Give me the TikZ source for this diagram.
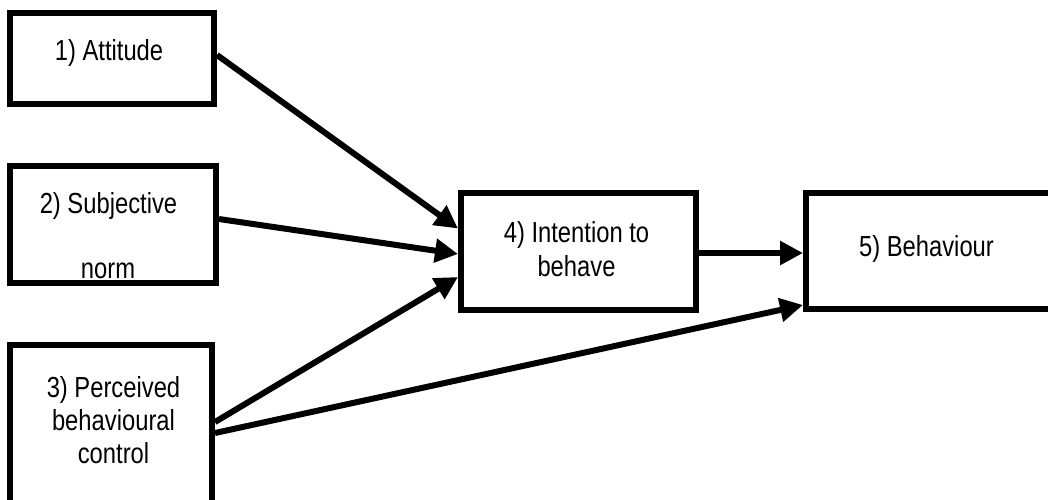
\documentclass[tikz,border=0pt]{standalone}
\usepackage{fontspec}
\setmainfont[FakeStretch=0.82]{Liberation Sans}
\usetikzlibrary{arrows.meta}
\tikzset{
  box/.style={draw=black, line width=6pt, fill=white, inner sep=0pt},
  lbl/.style={anchor=base, inner sep=0pt, font=\fontsize{29}{33}\selectfont},
  conn/.style={line width=6pt, -{Triangle[length=23pt,width=23pt]}}
}
\begin{document}
\begin{tikzpicture}[x=1pt,y=-1pt]
\clip (0,0) rectangle (1048,499);
\fill[white] (0,0) rectangle (1048,499);
% boxes
\node[box, minimum width=204pt, minimum height=91pt] (b1) at (112,58.5) {};
\node[box, minimum width=206pt, minimum height=117pt] (b2) at (113,224.5) {};
\node[box, minimum width=202pt, minimum height=165pt] (b3) at (111,427.5) {};
\node[box, minimum width=235pt, minimum height=117pt] (b4) at (578.5,251.5) {};
\node[box, minimum width=246pt, minimum height=116pt] (b5) at (929,251) {};
% texts
\node[lbl] (t1) at (109,60) {1) Attitude};
\node[lbl] (t2a) at (108.5,213) {2) Subjective};
\node[lbl] (t2b) at (108,278) {norm};
\node[lbl] (t3a) at (113.5,397) {3) Perceived};
\node[lbl] (t3b) at (113.5,430) {behavioural};
\node[lbl] (t3c) at (113.5,463) {control};
\node[lbl] (t4a) at (576.5,242) {4) Intention to};
\node[lbl] (t4b) at (576.5,276) {behave};
\node[lbl] (t5) at (926.5,256) {5) Behaviour};
% connectors
\draw[conn] ([yshift=3.5pt]b1.east) -- ([yshift=23pt]b4.west);
\draw[conn] ([yshift=5.5pt]b2.east) -- ([yshift=-2.5pt]b4.west);
\draw[conn] ([yshift=5.5pt]b3.east) -- ([yshift=-25.5pt]b4.west);
\draw[conn] ([yshift=-1.5pt]b4.east) -- ([yshift=-2pt]b5.west);
\draw[conn] ([yshift=-5.5pt]b3.east) -- ([yshift=-54pt]b5.west);
\end{tikzpicture}
\end{document}
